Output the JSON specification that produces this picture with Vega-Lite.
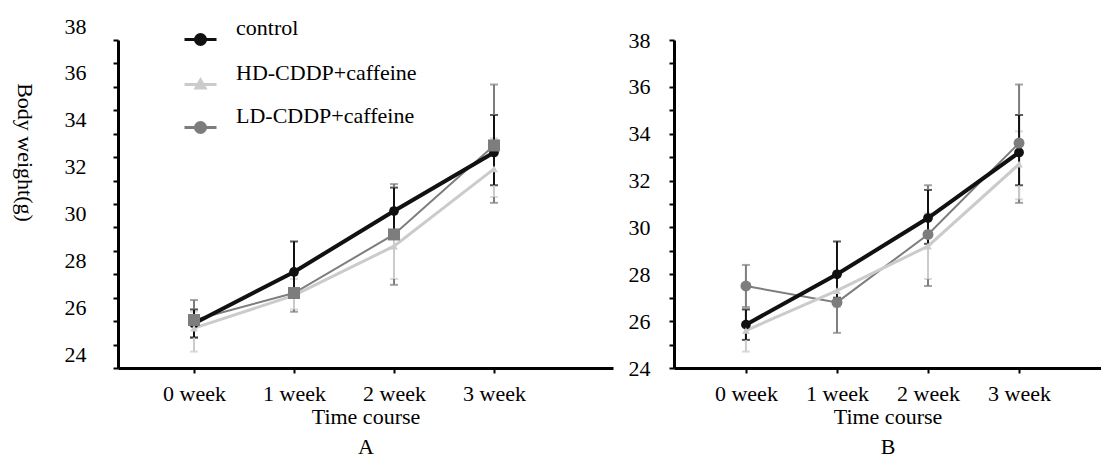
{
  "$schema": "https://vega.github.io/schema/vega-lite/v6.json",
  "padding": {"left": 12, "top": 15, "right": 0, "bottom": 0},
  "spacing": 15,
  "datasets": {
    "a": [
      {"group": "LD-CDDP+caffeine", "week": 0, "w": 26.05, "lo": 25.3, "hi": 26.9},
      {"group": "LD-CDDP+caffeine", "week": 1, "w": 27.2, "lo": 26.4, "hi": 28.0},
      {"group": "LD-CDDP+caffeine", "week": 2, "w": 29.7, "lo": 27.55, "hi": 31.85},
      {"group": "LD-CDDP+caffeine", "week": 3, "w": 33.5, "lo": 31.05, "hi": 36.1},
      {"group": "HD-CDDP+caffeine", "week": 0, "w": 25.7, "lo": 24.7, "hi": 26.4},
      {"group": "HD-CDDP+caffeine", "week": 1, "w": 27.1, "lo": 26.5, "hi": 27.8},
      {"group": "HD-CDDP+caffeine", "week": 2, "w": 29.2, "lo": 27.8, "hi": 30.7},
      {"group": "HD-CDDP+caffeine", "week": 3, "w": 32.5, "lo": 31.3, "hi": 33.8},
      {"group": "control", "week": 0, "w": 25.9, "lo": 25.3, "hi": 26.5},
      {"group": "control", "week": 1, "w": 28.1, "lo": 27.3, "hi": 29.4},
      {"group": "control", "week": 2, "w": 30.7, "lo": 29.6, "hi": 31.7},
      {"group": "control", "week": 3, "w": 33.2, "lo": 31.8, "hi": 34.8}
    ],
    "b": [
      {"group": "LD-CDDP+caffeine", "week": 0, "w": 27.5, "lo": 26.6, "hi": 28.4},
      {"group": "LD-CDDP+caffeine", "week": 1, "w": 26.8, "lo": 25.5, "hi": 28.1},
      {"group": "LD-CDDP+caffeine", "week": 2, "w": 29.7, "lo": 27.5, "hi": 31.8},
      {"group": "LD-CDDP+caffeine", "week": 3, "w": 33.6, "lo": 31.05, "hi": 36.1},
      {"group": "HD-CDDP+caffeine", "week": 0, "w": 25.6, "lo": 24.7, "hi": 26.5},
      {"group": "HD-CDDP+caffeine", "week": 1, "w": 27.3, "lo": 26.6, "hi": 28.0},
      {"group": "HD-CDDP+caffeine", "week": 2, "w": 29.2, "lo": 27.8, "hi": 30.6},
      {"group": "HD-CDDP+caffeine", "week": 3, "w": 32.7, "lo": 31.2, "hi": 34.1},
      {"group": "control", "week": 0, "w": 25.85, "lo": 25.2, "hi": 26.5},
      {"group": "control", "week": 1, "w": 28.0, "lo": 27.0, "hi": 29.4},
      {"group": "control", "week": 2, "w": 30.4, "lo": 29.3, "hi": 31.6},
      {"group": "control", "week": 3, "w": 33.2, "lo": 31.8, "hi": 34.8}
    ]
  },
  "hconcat": [
    {
      "width": 495,
      "height": 328,
      "data": {"name": "a"},
      "encoding": {
        "x": {"field": "week", "type": "quantitative", "scale": {"domain": [-0.76, 4.19], "nice": false, "zero": false},
          "axis": {"values": [0, 1, 2, 3], "labelExpr": "datum.value + ' week'", "title": ["Time course", "A"], "titleLineHeight": 30, "tickSize": 5, "labelPadding": 10, "titlePadding": 2}},
        "y": {"field": "w", "type": "quantitative", "scale": {"domain": [24, 38], "nice": false, "zero": false},
          "axis": {"values": [24,25,26,27,28,29,30,31,32,33,34,35,36,37,38], "labelExpr": "datum.value % 2 == 0 ? datum.label : ''", "title": "Body weight(g)", "titleAngle": 90, "titleX": -94, "titleY": 112, "titleAlign": "center", "titleBaseline": "middle", "tickSize": 5, "labelPadding": 27, "labelOffset": -14}}
      },
      "layer": [
        {
          "mark": {"type": "errorbar", "ticks": true, "size": 8, "thickness": 2},
          "encoding": {
            "y": {"field": "lo", "type": "quantitative"},
            "y2": {"field": "hi"},
            "color": {"field": "group", "type": "nominal", "legend": null, "scale": {"domain": ["control", "HD-CDDP+caffeine", "LD-CDDP+caffeine"], "range": ["#111111", "#cbcbcb", "#7d7d7d"]}}
          }
        },
        {
          "mark": {"type": "line"},
          "encoding": {
            "color": {"field": "group", "type": "nominal", "legend": null},
            "strokeWidth": {"field": "group", "type": "nominal", "legend": null, "scale": {"domain": ["control", "HD-CDDP+caffeine", "LD-CDDP+caffeine"], "range": [4, 2, 2.5]}}
          }
        },
        {
          "transform": [{"filter": "datum.group == 'control'"}],
          "mark": {"type": "point", "shape": "circle", "filled": true, "size": 95, "opacity": 1},
          "encoding": {"color": {"field": "group", "type": "nominal", "legend": null}}
        },
        {
          "transform": [{"filter": "datum.group == 'HD-CDDP+caffeine'"}],
          "mark": {"type": "point", "shape": "triangle-up", "filled": true, "size": 60, "opacity": 1},
          "encoding": {"color": {"field": "group", "type": "nominal", "legend": null}}
        },
        {
          "transform": [{"filter": "datum.group == 'LD-CDDP+caffeine'"}],
          "mark": {"type": "point", "shape": "square", "filled": true, "size": 144, "opacity": 1},
          "encoding": {"color": {"field": "group", "type": "nominal", "legend": null}}
        },
        {
          "transform": [{"filter": "datum.week > 100"}],
          "mark": {"type": "point", "filled": true, "opacity": 1},
          "encoding": {
            "fill": {"field": "group", "type": "nominal", "title": null, "scale": {"domain": ["control", "HD-CDDP+caffeine", "LD-CDDP+caffeine"], "range": ["#111111", "#cbcbcb", "#7d7d7d"]},
              "legend": {"orient": "none", "legendX": 71, "legendY": -12, "labelFont": "Liberation Serif", "labelFontSize": 22, "symbolOpacity": 1, "rowPadding": 10}},
            "stroke": {"field": "group", "type": "nominal", "title": null, "scale": {"domain": ["control", "HD-CDDP+caffeine", "LD-CDDP+caffeine"], "range": ["#111111", "#cbcbcb", "#7d7d7d"]},
              "legend": {"orient": "none", "legendX": 71, "legendY": -12, "labelFont": "Liberation Serif", "labelFontSize": 22, "symbolOpacity": 1, "rowPadding": 10}},
            "shape": {"field": "group", "type": "nominal", "title": null, "scale": {"domain": ["control", "HD-CDDP+caffeine", "LD-CDDP+caffeine"], "range": ["M-1.6,0L1.6,0M-0.5,0A0.5,0.5,0,1,0,0.5,0A0.5,0.5,0,1,0,-0.5,0Z", "M-1.6,0L1.6,0M0,-0.45L0.45,0.35L-0.45,0.35Z", "M-1.6,0L1.6,0M-0.5,0A0.5,0.5,0,1,0,0.5,0A0.5,0.5,0,1,0,-0.5,0Z"]},
              "legend": {"orient": "none", "legendX": 71, "legendY": -12, "labelFont": "Liberation Serif", "labelFontSize": 22, "symbolOpacity": 1, "rowPadding": 10}}
          }
        }
      ]
    },
    {
      "width": 427,
      "height": 328,
      "data": {"name": "b"},
      "encoding": {
        "x": {"field": "week", "type": "quantitative", "scale": {"domain": [-0.79, 3.9], "nice": false, "zero": false},
          "axis": {"values": [0, 1, 2, 3], "labelExpr": "datum.value + ' week'", "title": ["Time course", "B"], "titleLineHeight": 30, "tickSize": 5, "labelPadding": 10, "titlePadding": 2}},
        "y": {"field": "w", "type": "quantitative", "scale": {"domain": [24, 38], "nice": false, "zero": false},
          "axis": {"values": [24,25,26,27,28,29,30,31,32,33,34,35,36,37,38], "labelExpr": "datum.value % 2 == 0 ? datum.label : ''", "title": null, "tickSize": 5, "labelPadding": 19}}
      },
      "layer": [
        {
          "mark": {"type": "errorbar", "ticks": true, "size": 8, "thickness": 2},
          "encoding": {
            "y": {"field": "lo", "type": "quantitative"},
            "y2": {"field": "hi"},
            "color": {"field": "group", "type": "nominal", "legend": null, "scale": {"domain": ["control", "HD-CDDP+caffeine", "LD-CDDP+caffeine"], "range": ["#111111", "#cbcbcb", "#7d7d7d"]}}
          }
        },
        {
          "mark": {"type": "line"},
          "encoding": {
            "color": {"field": "group", "type": "nominal", "legend": null},
            "strokeWidth": {"field": "group", "type": "nominal", "legend": null, "scale": {"domain": ["control", "HD-CDDP+caffeine", "LD-CDDP+caffeine"], "range": [4, 2, 2.5]}}
          }
        },
        {
          "transform": [{"filter": "datum.group == 'control'"}],
          "mark": {"type": "point", "shape": "circle", "filled": true, "size": 95, "opacity": 1},
          "encoding": {"color": {"field": "group", "type": "nominal", "legend": null}}
        },
        {
          "transform": [{"filter": "datum.group == 'HD-CDDP+caffeine'"}],
          "mark": {"type": "point", "shape": "triangle-up", "filled": true, "size": 60, "opacity": 1},
          "encoding": {"color": {"field": "group", "type": "nominal", "legend": null}}
        },
        {
          "transform": [{"filter": "datum.group == 'LD-CDDP+caffeine'"}],
          "mark": {"type": "point", "shape": "circle", "filled": true, "size": 120, "opacity": 1},
          "encoding": {"color": {"field": "group", "type": "nominal", "legend": null}}
        }
      ]
    }
  ],
  "resolve": {"legend": {"shape": "independent", "fill": "independent", "stroke": "independent"}},
  "config": {
    "view": {"stroke": null},
    "font": "Liberation Serif",
    "style": {"guide-label": {"font": "Liberation Serif"}, "guide-title": {"font": "Liberation Serif"}},
    "axis": {"grid": false, "domainColor": "#000000", "domainWidth": 3, "tickColor": "#000000", "tickWidth": 2, "labelColor": "#000000", "titleColor": "#000000", "labelFont": "Liberation Serif", "titleFont": "Liberation Serif", "labelFontSize": 22, "titleFontSize": 22, "titleFontWeight": "normal", "labelFontWeight": "normal"},
    "legend": {"padding": 0, "symbolSize": 400, "symbolStrokeWidth": 3, "labelFont": "Liberation Serif", "labelFontSize": 22, "labelColor": "#000000", "labelBaseline": "bottom", "labelOffset": 24, "rowPadding": 10, "labelLimit": 400}
  }
}
